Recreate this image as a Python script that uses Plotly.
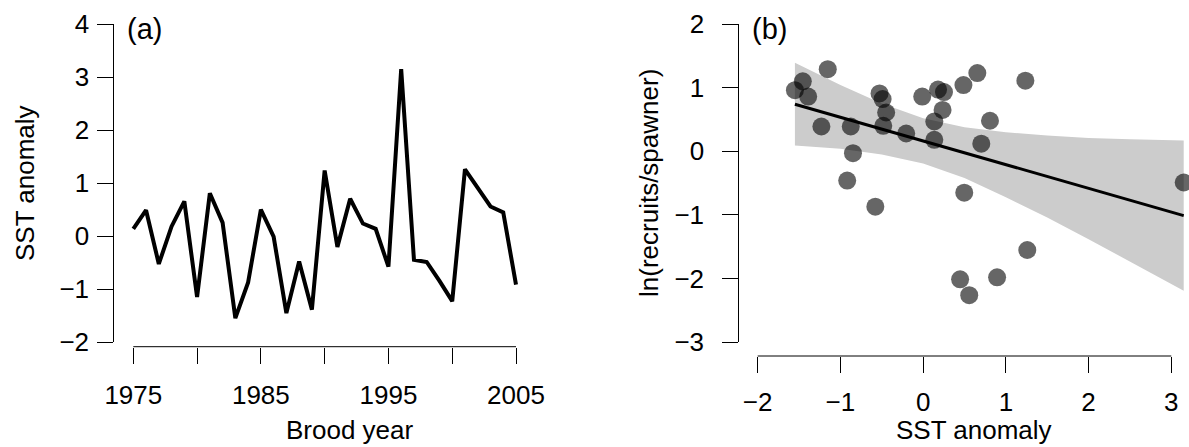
import plotly.graph_objects as go

W, H = 1189, 447
FONT = "Liberation Sans, Arial, sans-serif"
FS = 26

# ---------------- data ----------------
brood_year = list(range(1975, 2006))
sst_anomaly = [0.135, 0.487, -0.527, 0.18, 0.655, -1.153, 0.808, 0.252, -1.55, -0.875,
               0.497, -0.011, -1.455, -0.482, -1.39, 1.236, -0.205, 0.703, 0.235, 0.135,
               -0.578, 3.15, -0.447, -0.49, -0.848, -1.23, 1.259, 0.894, 0.557, 0.447,
               -0.918]
ln_recruits_per_spawner = [0.18, 1.04, 0.91, 0.97, 1.23, 1.29, 0.48, 0.93, 0.96, 0.39,
                           -0.65, 0.86, 1.10, 0.40, 0.86, 1.11, 0.28, 0.12, 0.65, 0.47,
                           -0.87, -0.49, 0.61, 0.82, -0.03, 0.39, -1.55, -1.98, -2.26, -2.01,
                           -0.46]
fit_x = [-1.55, 3.15]
fit_y = [0.74, -1.01]
band_x = [-1.55, -1.0, -0.5, 0.0, 0.5, 1.0, 1.5, 2.0, 2.5, 3.15]
band_upper = [1.39, 1.04, 0.75, 0.52, 0.38, 0.30, 0.25, 0.21, 0.19, 0.17]
band_lower = [0.09, 0.04, -0.05, -0.19, -0.42, -0.72, -1.04, -1.38, -1.73, -2.19]

year_ticks = [1975, 1980, 1985, 1990, 1995, 2000, 2005]
year_labels = ["1975", "", "1985", "", "1995", "", "2005"]
sst_ticks_a = [-2, -1, 0, 1, 2, 3, 4]
sst_ticks_b = [-2, -1, 0, 1, 2, 3]
lnrs_ticks = [-3, -2, -1, 0, 1, 2]


def fx(p):
    return p / W


def fy(p):
    return 1 - p / H


fig = go.Figure()

# panel (a)
fig.add_trace(go.Scatter(x=brood_year, y=sst_anomaly, mode="lines",
                         line=dict(color="black", width=4),
                         xaxis="x", yaxis="y", showlegend=False, hoverinfo="skip"))

# panel (b)
fig.add_trace(go.Scatter(x=band_x + band_x[::-1], y=band_upper + band_lower[::-1],
                         mode="lines", fill="toself", fillcolor="#cccccc",
                         line=dict(width=0, color="#cccccc"),
                         xaxis="x2", yaxis="y2", showlegend=False, hoverinfo="skip"))
fig.add_trace(go.Scatter(x=fit_x, y=fit_y, mode="lines",
                         line=dict(color="black", width=3),
                         xaxis="x2", yaxis="y2", showlegend=False, hoverinfo="skip"))
fig.add_trace(go.Scatter(x=sst_anomaly, y=ln_recruits_per_spawner, mode="markers",
                         marker=dict(size=18, color="rgba(0,0,0,0.6)", line=dict(width=0)),
                         xaxis="x2", yaxis="y2", showlegend=False, cliponaxis=True,
                         hoverinfo="skip"))

tickfont = dict(family=FONT, size=FS, color="black")
common = dict(showgrid=False, zeroline=False, ticks="outside", ticklen=16,
              tickwidth=1, tickcolor="black", linecolor="black", linewidth=1,
              tickfont=tickfont, automargin=False)

# panel (a) axes: 1975 -> 133.3 px, 2005 -> 516 px
a_left, a_right = 113.3, 540.0
a_per = (516.0 - 133.3) / 30.0
a_r0 = 1975 - (133.3 - a_left) / a_per
a_r1 = 2005 + (a_right - 516.0) / a_per
fig.update_layout(
    xaxis=dict(domain=[fx(a_left), fx(a_right)], range=[a_r0, a_r1], anchor="free",
               position=fy(346.7), showline=False, tickmode="array",
               tickvals=year_ticks, ticktext=year_labels, ticklabelstandoff=9, **common),
    yaxis=dict(domain=[fy(342), fy(24)], range=[-2, 4], anchor="free",
               position=fx(a_left), showline=True, tickmode="array",
               tickvals=sst_ticks_a, ticklabelstandoff=3, **common),
)

# panel (b) axes: -2 -> 757.7 px, 3 -> 1171.3 px
b_left = 738.3
px_per = (1171.3 - 757.7) / 5.0
b_r0 = -2 - (757.7 - b_left) / px_per
b_r1 = 3 + (W - 1171.3) / px_per
fig.update_layout(
    xaxis2=dict(domain=[fx(b_left), 1.0], range=[b_r0, b_r1], anchor="free",
                position=fy(356), showline=False, tickmode="array",
                tickvals=sst_ticks_b, ticklabelstandoff=7, **common),
    yaxis2=dict(domain=[fy(342.3), fy(24)], range=[-3, 2], anchor="free",
                position=fx(b_left), showline=True, tickmode="array",
                tickvals=lnrs_ticks, ticklabelstandoff=13, **common),
)

shapes = [
    dict(type="line", xref="x", yref="paper",
         x0=min(year_ticks), x1=max(year_ticks), y0=fy(346.7), y1=fy(346.7),
         line=dict(color="black", width=1)),
    dict(type="line", xref="x2", yref="paper",
         x0=min(sst_ticks_b), x1=max(sst_ticks_b), y0=fy(356), y1=fy(356),
         line=dict(color="black", width=1)),
]

ann_font = dict(family=FONT, size=FS, color="black")
lab_font = dict(family=FONT, size=29, color="black")
annotations = [
    dict(text="Brood year", x=fx(350), y=fy(430), xref="paper", yref="paper",
         xanchor="center", yanchor="middle", showarrow=False, font=ann_font),
    dict(text="SST anomaly", x=fx(974), y=fy(430), xref="paper", yref="paper",
         xanchor="center", yanchor="middle", showarrow=False, font=ann_font),
    dict(text="SST anomaly", x=fx(25), y=fy(183), xref="paper", yref="paper",
         xanchor="center", yanchor="middle", showarrow=False, textangle=-90, font=ann_font),
    dict(text="ln(recruits/spawner)", x=fx(649), y=fy(183), xref="paper", yref="paper",
         xanchor="center", yanchor="middle", showarrow=False, textangle=-90, font=ann_font),
    dict(text="(a)", x=fx(125), y=fy(29), xref="paper", yref="paper",
         xanchor="left", yanchor="middle", showarrow=False, font=lab_font),
    dict(text="(b)", x=fx(750), y=fy(29), xref="paper", yref="paper",
         xanchor="left", yanchor="middle", showarrow=False, font=lab_font),
]

fig.update_layout(width=W, height=H, margin=dict(l=0, r=0, t=0, b=0, autoexpand=False),
                  paper_bgcolor="white", plot_bgcolor="rgba(0,0,0,0)",
                  font=dict(family=FONT, size=FS, color="black"),
                  shapes=shapes, annotations=annotations)

fig.write_html("out.html")
